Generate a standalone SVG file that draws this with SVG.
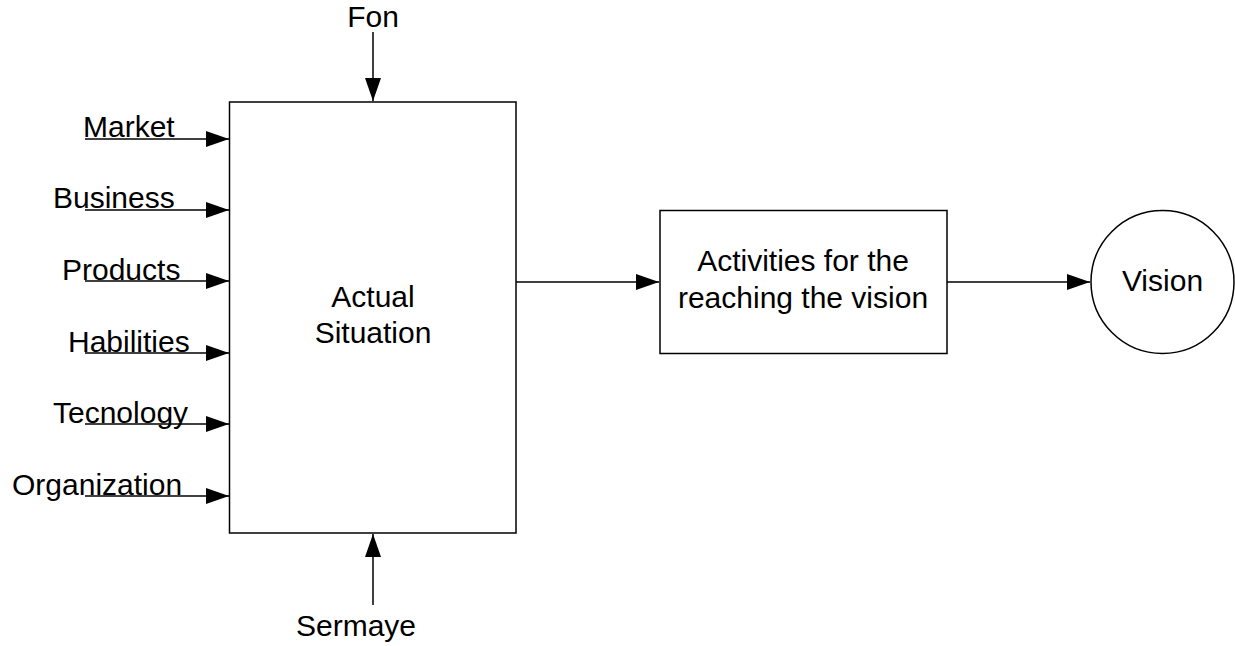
<svg xmlns="http://www.w3.org/2000/svg" width="1235" height="646" viewBox="0 0 1235 646">
  <style>
    .box { fill: #ffffff; stroke: #000000; stroke-width: 1.5; }
    .lbl { font-family: "Liberation Sans", Arial, sans-serif; font-size: 30px; fill: #000000; }
    .mid { text-anchor: middle; }
    .conn { stroke: #000000; stroke-width: 1.5; fill: none; marker-end: url(#arrow); }
  </style>
  <defs>
    <marker id="arrow" markerUnits="userSpaceOnUse" markerWidth="24" markerHeight="16" refX="23" refY="8" orient="auto">
      <path d="M0,0 L23,8 L0,16 Z" fill="#000000"/>
    </marker>
  </defs>

  <rect width="1235" height="646" fill="#ffffff"/>

  <!-- input labels on the left -->
  <g id="labels">
    <text class="lbl" x="83" y="137">Market</text>
    <text class="lbl" x="53" y="208">Business</text>
    <text class="lbl" x="62" y="280">Products</text>
    <text class="lbl" x="68" y="352">Habilities</text>
    <text class="lbl" x="53" y="423">Tecnology</text>
    <text class="lbl" x="12" y="495">Organization</text>
    <text class="lbl mid" x="373" y="27">Fon</text>
    <text class="lbl mid" x="356" y="636">Sermaye</text>
  </g>

  <g id="node-actual">
    <rect class="box" x="229.5" y="102" width="286.5" height="431"/>
    <text class="lbl mid" x="373" y="307">Actual</text>
    <text class="lbl mid" x="373" y="343">Situation</text>
  </g>

  <g id="node-activities">
    <rect class="box" x="660" y="210.5" width="287" height="143"/>
    <text class="lbl mid" x="803" y="271">Activities for the</text>
    <text class="lbl mid" x="803" y="308">reaching the vision</text>
  </g>

  <g id="node-vision">
    <circle class="box" cx="1162.5" cy="282" r="71.5"/>
    <text class="lbl mid" x="1162.5" y="291">Vision</text>
  </g>

  <g id="connectors">
    <line class="conn" x1="85" y1="139" x2="229" y2="139"/>
    <line class="conn" x1="85" y1="210" x2="229" y2="210"/>
    <line class="conn" x1="85" y1="281" x2="229" y2="281"/>
    <line class="conn" x1="85" y1="353" x2="229" y2="353"/>
    <line class="conn" x1="85" y1="424" x2="229" y2="424"/>
    <line class="conn" x1="85" y1="496" x2="229" y2="496"/>
    <line class="conn" x1="373" y1="32" x2="373" y2="101"/>
    <line class="conn" x1="373" y1="605" x2="373" y2="534"/>
    <line class="conn" x1="516" y1="282" x2="659" y2="282"/>
    <line class="conn" x1="947" y1="282" x2="1090" y2="282"/>
  </g>
</svg>
